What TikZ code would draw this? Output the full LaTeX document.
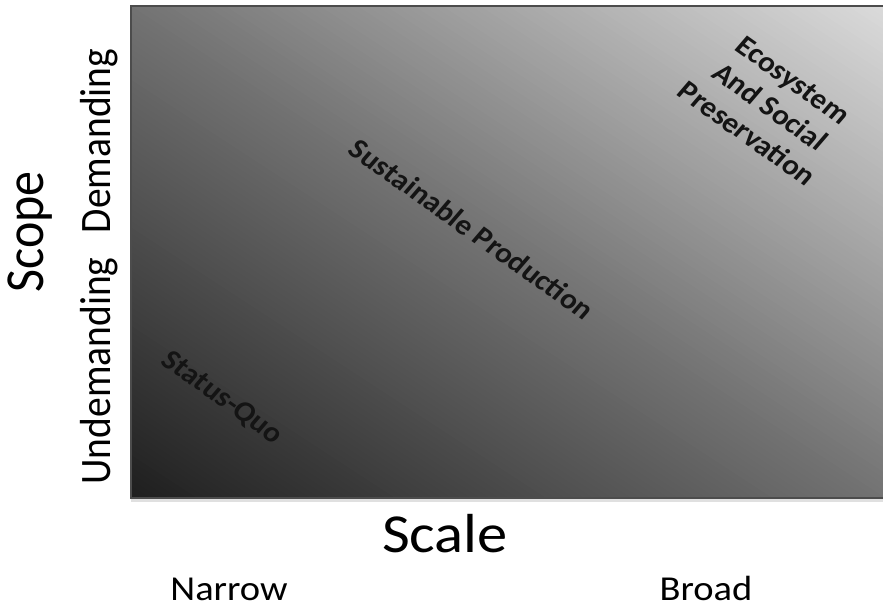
\documentclass[tikz,border=0pt]{standalone}
\usepackage{fontspec}
\setmainfont{Carlito}
\begin{document}
\begin{tikzpicture}[x=1pt,y=1pt,xscale=1.1,
  axislab/.style={font=\fontsize{39.5}{47}\selectfont, inner sep=0pt, transform shape},
  bigaxis/.style={font=\fontsize{50}{60}\selectfont, inner sep=0pt, transform shape},
  scalelab/.style={font=\fontsize{55}{66}\selectfont, inner sep=0pt, transform shape},
  endlab/.style={font=\fontsize{35}{42}\selectfont, inner sep=0pt, transform shape},
  diaglab/.style={font=\fontsize{28.5}{34}\selectfont\bfseries, inner sep=0pt,
    transform shape, rotate=-38, align=center, text=black!92}]
\useasboundingbox (0,0) rectangle (802.73,611);
% gradient panel
\coordinate (bl) at (119.1,113);
\coordinate (tr) at (805,605);
\begin{scope}
  \clip (bl) rectangle (tr);
  \begin{scope}[shift={(bl)}]
    \foreach \i in {0,...,159}{
      \pgfmathsetmacro\ca{\i/80}
      \pgfmathsetmacro\cb{(\i+1)/80+0.006}
      \pgfmathsetmacro\myt{(\i+0.5)/80}
      \pgfmathsetmacro\gv{\myt<1 ? 0.12+0.33*\myt : 0.45+0.41*(\myt-1)}
      \definecolor{bandc}{gray}{\gv}
      \fill[bandc] (\ca*685.9,0) -- (\cb*685.9,0) -- (0,\cb*492) -- (0,\ca*492) -- cycle;
    }
  \end{scope}
\end{scope}
\draw[black!12, line width=2.5pt] ([yshift=-2.5pt]bl) -- ([yshift=-2.5pt]bl -| tr);
\draw[black!70, line width=1.3pt] (bl -| tr) -- (bl) -- (bl |- tr) -- (tr);
% axis labels
\node[bigaxis, rotate=90, anchor=base] (scope) at (39.1,379) {Scope};
\node[axislab, rotate=90, anchor=base] (dem) at (100,470) {Demanding};
\node[axislab, rotate=90, anchor=base] (undem) at (100,240) {Undemanding};
\node[scalelab, anchor=base] (scale) at (404.5,58) {Scale};
\node[endlab, anchor=base] (narrow) at (208.2,10) {Narrow};
\node[endlab, anchor=base] (broad) at (641.8,10) {Broad};
% diagonal labels
\node[diaglab] (sust) at (429.1,382) {Sustainable Production};
\node[diaglab] (squo) at (201.8,213) {Status-Quo};
\node[diaglab] (eco) at (700,504) {Ecosystem\\And Social\\Preservation};
\end{tikzpicture}
\end{document}
